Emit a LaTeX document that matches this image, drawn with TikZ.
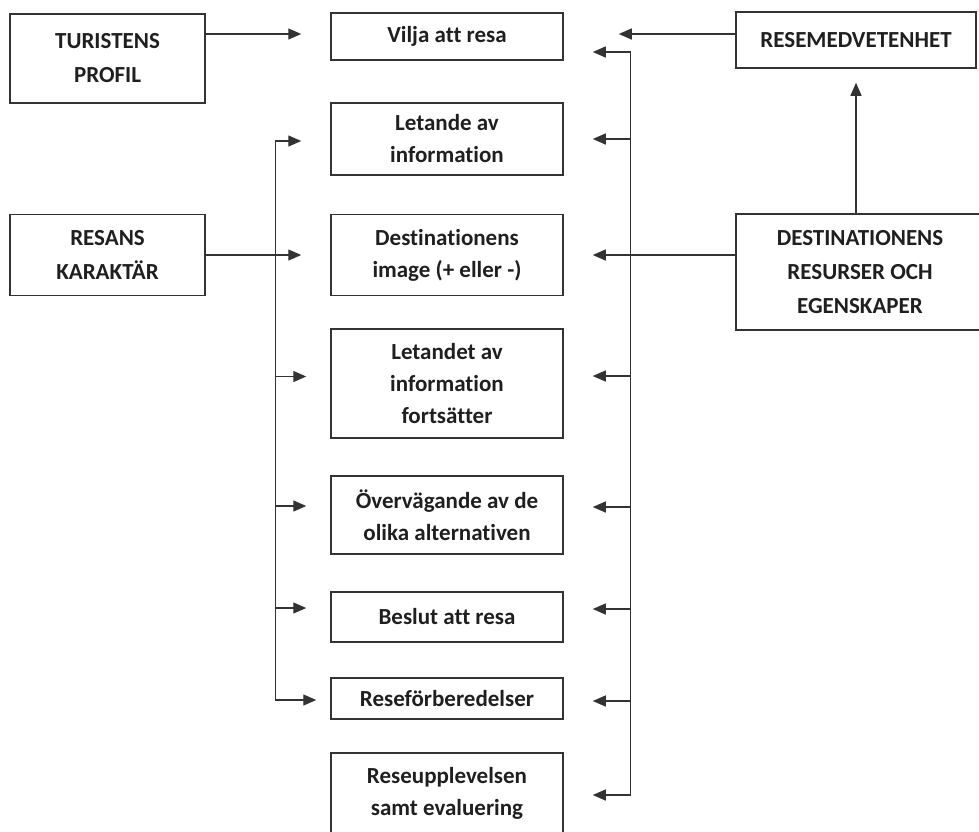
\documentclass[tikz,border=0pt]{standalone}
\usepackage{fontspec}
\setmainfont{Carlito}[Ligatures=NoCommon]
\usetikzlibrary{ arrows.meta, % For the filled arrow heads
               }
\tikzstyle{box} = [rectangle, draw=black!80, line width=1.5pt, align=center, text=black!88, inner sep=0pt]
\tikzstyle{factor} = [box, font=\bfseries\fontsize{23}{34}\selectfont]
\tikzstyle{stage} = [box, minimum width=232pt, font=\bfseries\fontsize{23}{32}\selectfont]
\tikzstyle{link} = [->, line width=1.4pt, draw=black!80]

\begin{document}
\begin{tikzpicture}[x=1pt, y=-1pt, >={Triangle[length=13pt, width=11pt]}]
  \useasboundingbox (0,0) rectangle (979,831);
  \clip (0,0) rectangle (979,831);

  % factors on the left
  \node (profil) [factor, minimum width=195pt, minimum height=89pt] at (107.5, 58.5) {TURISTENS\\PROFIL};
  \node (karaktar) [factor, minimum width=195pt, minimum height=81pt] at (107.5, 255) {RESANS\\KARAKTÄR};

  % stages of the decision
  \node (vilja) [stage, minimum height=47pt] at (447, 36.5) {Vilja att resa};
  \node (letande) [stage, minimum height=72pt] at (447, 139) {Letande av\\information};
  \node (bild) [stage, minimum height=81pt] at (447, 255) {Destinationens\\image (+ eller -)};
  \node (fortsatt) [stage, minimum height=109pt] at (447, 383.5) {Letandet av\\information\\fortsätter};
  \node (overv) [stage, minimum height=78pt] at (447, 515) {Övervägande av de\\olika alternativen};
  \node (beslut) [stage, minimum height=50pt] at (447, 617) {Beslut att resa};
  \node (forb) [stage, minimum height=41pt] at (447, 698.5) {Reseförberedelser};
  \node (upplev) [stage, minimum height=80pt] at (447, 793) {Reseupplevelsen\\samt evaluering};

  % factors on the right
  \node (medvetenhet) [factor, minimum width=240pt, minimum height=56pt] at (856, 40) {RESEMEDVETENHET};
  \node (resurser) [factor, minimum width=248pt, minimum height=116pt] at (860, 272) {DESTINATIONENS\\RESURSER OCH\\EGENSKAPER};

  % single arrows
  \draw [link] ([yshift=2.5pt]profil.east |- vilja.west) -- ([xshift=-29pt, yshift=2.5pt]vilja.west);
  \draw [link] (karaktar.east) -- ([xshift=-29pt]bild.west);
  \draw [link] ([yshift=6pt]medvetenhet.west) -- ([xshift=55pt, yshift=2.5pt]vilja.east);
  \draw [link] ([yshift=17pt]resurser.west) -- ([xshift=29pt]bild.east);
  \draw [link] (resurser.north -| medvetenhet.south) -- ([yshift=-14pt]medvetenhet.south);

  % left bus
  \path (letande.west) ++(-55, 2) coordinate (ltop);
  \path (forb.west) ++(-55, 1.5) coordinate (lbot);
  \draw [link, <->] ([xshift=-29pt]letande.west |- ltop) -- (ltop) -- (lbot) -- ([xshift=-14pt]forb.west |- lbot);
  \draw [link] ([yshift=7pt]fortsatt.west -| ltop) -- ([xshift=-24pt, yshift=7pt]fortsatt.west);
  \draw [link] ([yshift=9pt]overv.west -| ltop) -- ([xshift=-24pt, yshift=9pt]overv.west);
  \draw [link] ([yshift=9pt]beslut.west -| ltop) -- ([xshift=-24pt, yshift=9pt]beslut.west);

  % right bus
  \path (vilja.east) ++(67, 15.5) coordinate (rtop);
  \path (upplev.east) ++(67, 2) coordinate (rbot);
  \draw [link, <->] ([xshift=29pt]vilja.east |- rtop) -- (rtop) -- (rbot) -- ([xshift=29pt]upplev.east |- rbot);
  \draw [link] (letande.east -| rtop) -- ([xshift=29pt]letande.east);
  \draw [link] ([yshift=7.5pt]fortsatt.east -| rtop) -- ([xshift=29pt, yshift=7.5pt]fortsatt.east);
  \draw [link] ([yshift=8pt]overv.east -| rtop) -- ([xshift=29pt, yshift=8pt]overv.east);
  \draw [link] ([yshift=8pt]beslut.east -| rtop) -- ([xshift=29pt, yshift=8pt]beslut.east);
  \draw [link] ([yshift=-2.5pt]forb.east -| rtop) -- ([xshift=29pt, yshift=-2.5pt]forb.east);
\end{tikzpicture}
\end{document}
